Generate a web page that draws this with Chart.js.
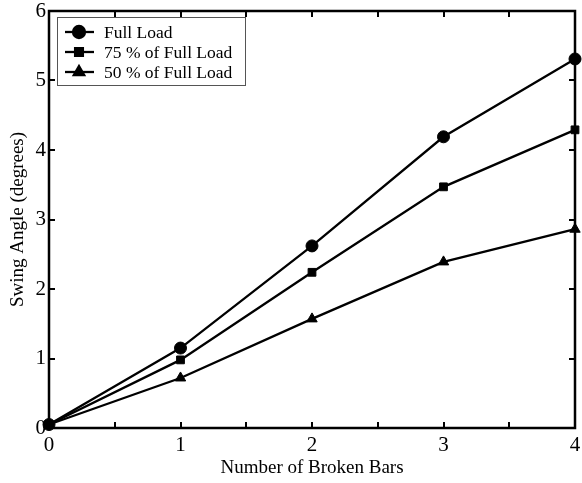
<!DOCTYPE html>
<html>
<head>
<meta charset="utf-8">
<script src="https://cdn.jsdelivr.net/npm/chart.js@4"></script>
<style>
  html, body { margin: 0; padding: 0; background: #fff; }
  #wrap { width: 582px; height: 483px; }
</style>
</head>
<body>
<div id="wrap"><canvas id="c" width="582" height="483"></canvas></div>
<script>
const brokenBars = [0, 1, 2, 3, 4];
const fullLoad = [0.05, 1.15, 2.62, 4.19, 5.31];
const load75 = [0.05, 0.98, 2.24, 3.47, 4.29];
const load50 = [0.05, 0.72, 1.57, 2.39, 2.86];
const seriesNames = ["Full Load", "75 % of Full Load", "50 % of Full Load"];
const markers = ["circle", "rect", "triangle"];
const markerSizes = [6, 5.5, 6];

const FONT = "'Liberation Serif', 'DejaVu Serif', serif";

function pts(ys) {
  return ys.map((y, i) => ({ x: brokenBars[i], y: y }));
}

const datasets = [fullLoad, load75, load50].map((vals, i) => ({
  label: seriesNames[i],
  data: pts(vals),
  borderColor: "#000",
  backgroundColor: "#000",
  borderWidth: 2.3,
  pointStyle: markers[i],
  pointRadius: markerSizes[i],
  pointBorderWidth: 1,
  tension: 0,
  clip: false
}));

// box around the plot, inward ticks on all four sides, legend inside
const framePlugin = {
  id: "frame",
  afterDraw(chart) {
    const ctx = chart.ctx;
    const a = chart.chartArea;
    const xs = chart.scales.x, ys = chart.scales.y;
    ctx.save();
    ctx.strokeStyle = "#000";
    ctx.lineWidth = 2.5;
    ctx.strokeRect(a.left, a.top, a.right - a.left, a.bottom - a.top);
    ctx.lineWidth = 2;
    ctx.beginPath();
    for (let v = 0.5; v < 4; v += 0.5) {
      const px = Math.round(xs.getPixelForValue(v));
      ctx.moveTo(px, a.bottom); ctx.lineTo(px, a.bottom - 6);
      ctx.moveTo(px, a.top); ctx.lineTo(px, a.top + 6);
    }
    for (let v = 1; v < 6; v++) {
      const py = Math.round(ys.getPixelForValue(v));
      ctx.moveTo(a.left, py); ctx.lineTo(a.left + 6, py);
      ctx.moveTo(a.right, py); ctx.lineTo(a.right - 6, py);
    }
    ctx.stroke();

    // legend
    const bx = 57, by = 17, bw = 188, bh = 68;
    ctx.fillStyle = "#fff";
    ctx.fillRect(bx, by, bw, bh);
    ctx.strokeStyle = "#555";
    ctx.lineWidth = 1;
    ctx.strokeRect(bx + 0.5, by + 0.5, bw, bh);
    ctx.font = "17.5px " + FONT;
    ctx.textBaseline = "middle";
    chart.data.datasets.forEach((ds, i) => {
      const y = by + 15 + i * 20;
      ctx.strokeStyle = "#000";
      ctx.lineWidth = 2.3;
      ctx.beginPath();
      ctx.moveTo(bx + 8, y); ctx.lineTo(bx + 37, y);
      ctx.stroke();
      Chart.helpers.drawPoint(ctx, { pointStyle: ds.pointStyle, radius: ds.pointRadius, borderWidth: 1 }, bx + 22, y);
      ctx.fillStyle = "#000";
      ctx.fill();
      ctx.fillText(ds.label, bx + 47, y + 1);
    });
    ctx.restore();
  }
};

new Chart(document.getElementById("c"), {
  type: "line",
  data: { datasets: datasets },
  options: {
    responsive: false,
    animation: false,
    layout: { padding: { top: 11, right: 5, left: 0, bottom: 0 } },
    plugins: { legend: { display: false }, tooltip: { enabled: false } },
    scales: {
      x: {
        type: "linear",
        min: 0, max: 4,
        ticks: {
          stepSize: 1,
          color: "#000",
          font: { family: FONT, size: 21 },
          padding: 5,
          maxRotation: 0
        },
        grid: { display: false, drawTicks: false },
        border: { display: false },
        title: {
          display: true,
          text: "Number of Broken Bars",
          color: "#000",
          font: { family: FONT, size: 19 },
          padding: { top: 0, bottom: 4 }
        },
        afterFit(s) { s.height = 55; s.paddingLeft = 0; s.paddingRight = 0; }
      },
      y: {
        type: "linear",
        min: 0, max: 6,
        ticks: {
          stepSize: 1,
          color: "#000",
          font: { family: FONT, size: 21 },
          padding: 3
        },
        grid: { display: false, drawTicks: false },
        border: { display: false },
        title: {
          display: true,
          text: "Swing Angle (degrees)",
          color: "#000",
          font: { family: FONT, size: 19 },
          padding: { top: 7, bottom: 0 }
        },
        afterFit(s) { s.width = 49; s.paddingTop = 0; s.paddingBottom = 0; }
      }
    }
  },
  plugins: [framePlugin]
});
</script>
</body>
</html>
